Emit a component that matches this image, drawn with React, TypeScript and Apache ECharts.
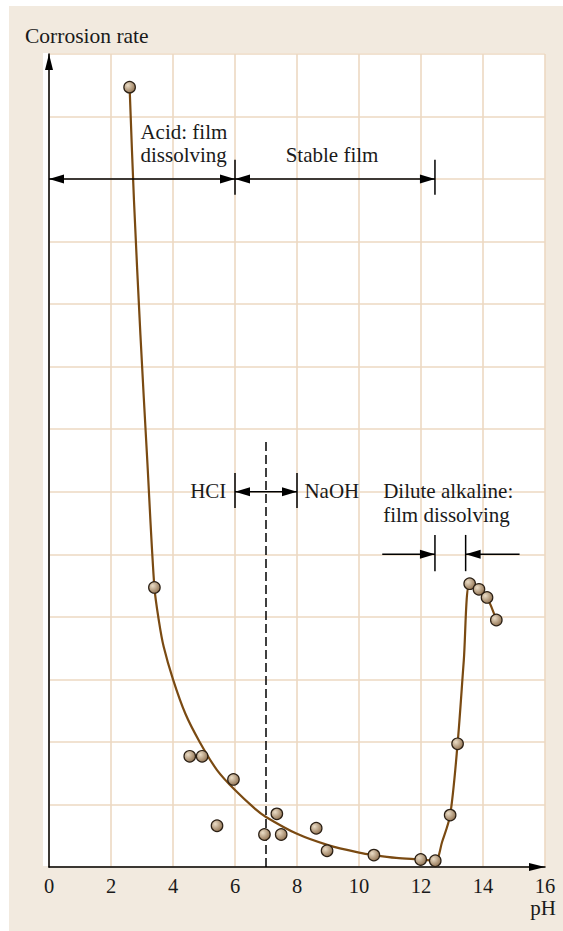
import React, { useEffect, useRef } from "react";
import * as echarts from "echarts";

// Measured samples (pH, corrosion rate in grid units)
const samplePH = [2.6, 3.4, 4.54, 4.94, 5.95, 5.42, 6.95, 7.35, 7.49, 8.62, 8.97, 10.48, 11.99, 12.46, 12.94, 13.18, 13.57, 13.87, 14.13, 14.43];
const sampleRate = [12.47, 4.47, 1.77, 1.77, 1.4, 0.66, 0.52, 0.85, 0.52, 0.62, 0.26, 0.19, 0.12, 0.1, 0.83, 1.97, 4.53, 4.44, 4.31, 3.95];

// Fitted curve
const curvePH = [2.6, 2.74, 2.95, 3.17, 3.4, 3.55, 3.7, 4.0, 4.4, 4.86, 5.42, 6.0, 6.65, 7.0, 8.0, 9.0, 10.0, 10.48, 11.2, 12.0, 12.46, 12.68, 12.94, 13.18, 13.38, 13.57, 13.87, 14.13, 14.43];
const curveRate = [12.47, 10.67, 8.5, 6.5, 4.47, 3.92, 3.52, 3.0, 2.45, 2.0, 1.55, 1.23, 0.93, 0.8, 0.53, 0.35, 0.23, 0.19, 0.145, 0.12, 0.1, 0.4, 0.83, 1.97, 3.3, 4.53, 4.44, 4.31, 3.95];

// Dimension arrows
const arrowFromPH = [0, 6, 6, 10.75, 13.44];
const arrowToPH = [6, 12.45, 8, 12.45, 15.18];
const arrowRate = [11, 11, 6, 5, 5];
const arrowHeadFrom = [1, 1, 1, 0, 1];
const arrowHeadTo = [1, 1, 1, 1, 0];

// Vertical marks (ticks and the dashed neutral line)
const vlinePH = [6, 12.45, 6, 8, 12.45, 13.44, 7];
const vlineLow = [10.75, 10.75, 5.74, 5.74, 4.73, 4.73, 0];
const vlineHigh = [11.31, 11.31, 6.3, 6.3, 5.31, 5.31, 6.83];
const vlineDashed = [0, 0, 0, 0, 0, 0, 1];

// Annotation texts
const labelText = ["Acid: film", "dissolving", "Stable film", "HCI", "NaOH", "Dilute alkaline:", "film dissolving"];
const labelPH = [2.95, 2.95, 9.13, 5.72, 8.24, 10.78, 10.78];
const labelRate = [11.75, 11.38, 11.38, 6.01, 6.01, 6.01, 5.63];
const labelAlign = ["left", "left", "center", "right", "left", "left", "left"];

const FONT = "'Liberation Serif', 'Times New Roman', serif";

export default function App() {
  const ref = useRef<HTMLDivElement>(null);
  useEffect(() => {
    const chart = echarts.init(ref.current as HTMLDivElement, null, { renderer: "svg" });
    const gridColor = "#edd9c2";
    const option: any = {
      animation: false,
      backgroundColor: "#f2eadf",
      grid: { left: 40, top: 48, right: 18, bottom: 64, containLabel: false },
      graphic: [
        { type: "rect", z: -100, shape: { x: 34, y: 47, width: 502, height: 813 }, style: { fill: "#ffffff" } },
        {
          type: "text", x: 16, y: 30,
          style: { text: "Corrosion rate", fontSize: 21.5, fontFamily: FONT, fill: "#1a1a1a", textVerticalAlign: "middle", verticalAlign: "middle" },
        },
        {
          type: "text", x: 534, y: 902,
          style: { text: "pH", fontSize: 21, fontFamily: FONT, fill: "#1a1a1a", textAlign: "center", align: "center", textVerticalAlign: "middle", verticalAlign: "middle" },
        },
      ],
      xAxis: {
        type: "value", min: 0, max: 16, interval: 2,
        axisLine: {
          show: true, lineStyle: { color: "#000", width: 1.5 },
          symbol: ["none", "path://M4,0L8,16L0,16Z"], symbolSize: [8, 16], symbolOffset: [0, -8],
        },
        axisTick: { show: false },
        axisLabel: { color: "#1a1a1a", fontSize: 20.5, fontFamily: FONT, margin: 8 },
        splitLine: { show: true, lineStyle: { color: gridColor, width: 1.6 } },
      },
      yAxis: {
        type: "value", min: 0, max: 13, interval: 1,
        axisLine: {
          show: true, lineStyle: { color: "#000", width: 1.5 },
          symbol: ["none", "path://M4,0L8,16L0,16Z"], symbolSize: [8, 16], symbolOffset: [0, -8],
        },
        axisTick: { show: false },
        axisLabel: { show: false },
        splitLine: { show: true, lineStyle: { color: gridColor, width: 1.6 } },
      },
      series: [
        {
          type: "line", name: "fit",
          data: curvePH.map((x, i) => [x, curveRate[i]]),
          smooth: 0.3, showSymbol: false, symbol: "none",
          lineStyle: { color: "#7a4a12", width: 2.2 }, z: 3,
        },
        {
          type: "custom", name: "vlines", z: 2,
          data: vlinePH.map((x, i) => [x, vlineLow[i]]),
          renderItem: (params: any, api: any) => {
            const i = params.dataIndex;
            const a = api.coord([vlinePH[i], vlineLow[i]]);
            const b = api.coord([vlinePH[i], vlineHigh[i]]);
            return {
              type: "line",
              shape: { x1: a[0], y1: a[1], x2: b[0], y2: b[1] },
              style: { stroke: "#000", lineWidth: 1.5, lineDash: vlineDashed[i] ? [9, 4] : null },
            };
          },
        },
        {
          type: "custom", name: "arrows", z: 4,
          data: arrowFromPH.map((x, i) => [x, arrowRate[i]]),
          renderItem: (params: any, api: any) => {
            const i = params.dataIndex;
            const p1 = api.coord([arrowFromPH[i], arrowRate[i]]);
            const p2 = api.coord([arrowToPH[i], arrowRate[i]]);
            const L = 15, W = 4.5;
            const head = (tip: number[], dir: number) => ({
              type: "polygon",
              shape: { points: [[tip[0], tip[1]], [tip[0] - dir * L, tip[1] - W], [tip[0] - dir * L, tip[1] + W]] },
              style: { fill: "#000" },
            });
            const children: any[] = [
              { type: "line", shape: { x1: p1[0], y1: p1[1], x2: p2[0], y2: p2[1] }, style: { stroke: "#000", lineWidth: 1.5 } },
            ];
            if (arrowHeadFrom[i]) children.push(head(p1, -1));
            if (arrowHeadTo[i]) children.push(head(p2, 1));
            return { type: "group", children };
          },
        },
        {
          type: "custom", name: "labels", z: 5,
          data: labelPH.map((x, i) => [x, labelRate[i]]),
          renderItem: (params: any, api: any) => {
            const i = params.dataIndex;
            const p = api.coord([labelPH[i], labelRate[i]]);
            return {
              type: "text",
              x: p[0], y: p[1],
              style: {
                text: labelText[i], fontSize: 21, fontFamily: FONT, fill: "#1a1a1a",
                textAlign: labelAlign[i], align: labelAlign[i],
                textVerticalAlign: "middle", verticalAlign: "middle",
              },
            };
          },
        },
        {
          type: "scatter", name: "samples",
          data: samplePH.map((x, i) => [x, sampleRate[i]]),
          symbol: "circle", symbolSize: 11.5, z: 6,
          itemStyle: {
            color: new echarts.graphic.RadialGradient(0.35, 0.35, 0.75, [
              { offset: 0, color: "#eadcc6" },
              { offset: 1, color: "#8a6a48" },
            ]),
            borderColor: "#2a1f14", borderWidth: 1.2, opacity: 1,
          },
        },
      ],
    };
    chart.setOption(option);
    return () => chart.dispose();
  }, []);
  return (
    <div style={{ position: "absolute", left: 0, top: 0, width: 563, height: 931, background: "#ffffff" }}>
      <div ref={ref} style={{ position: "absolute", left: 9, top: 6, width: 554, height: 925 }} />
    </div>
  );
}
